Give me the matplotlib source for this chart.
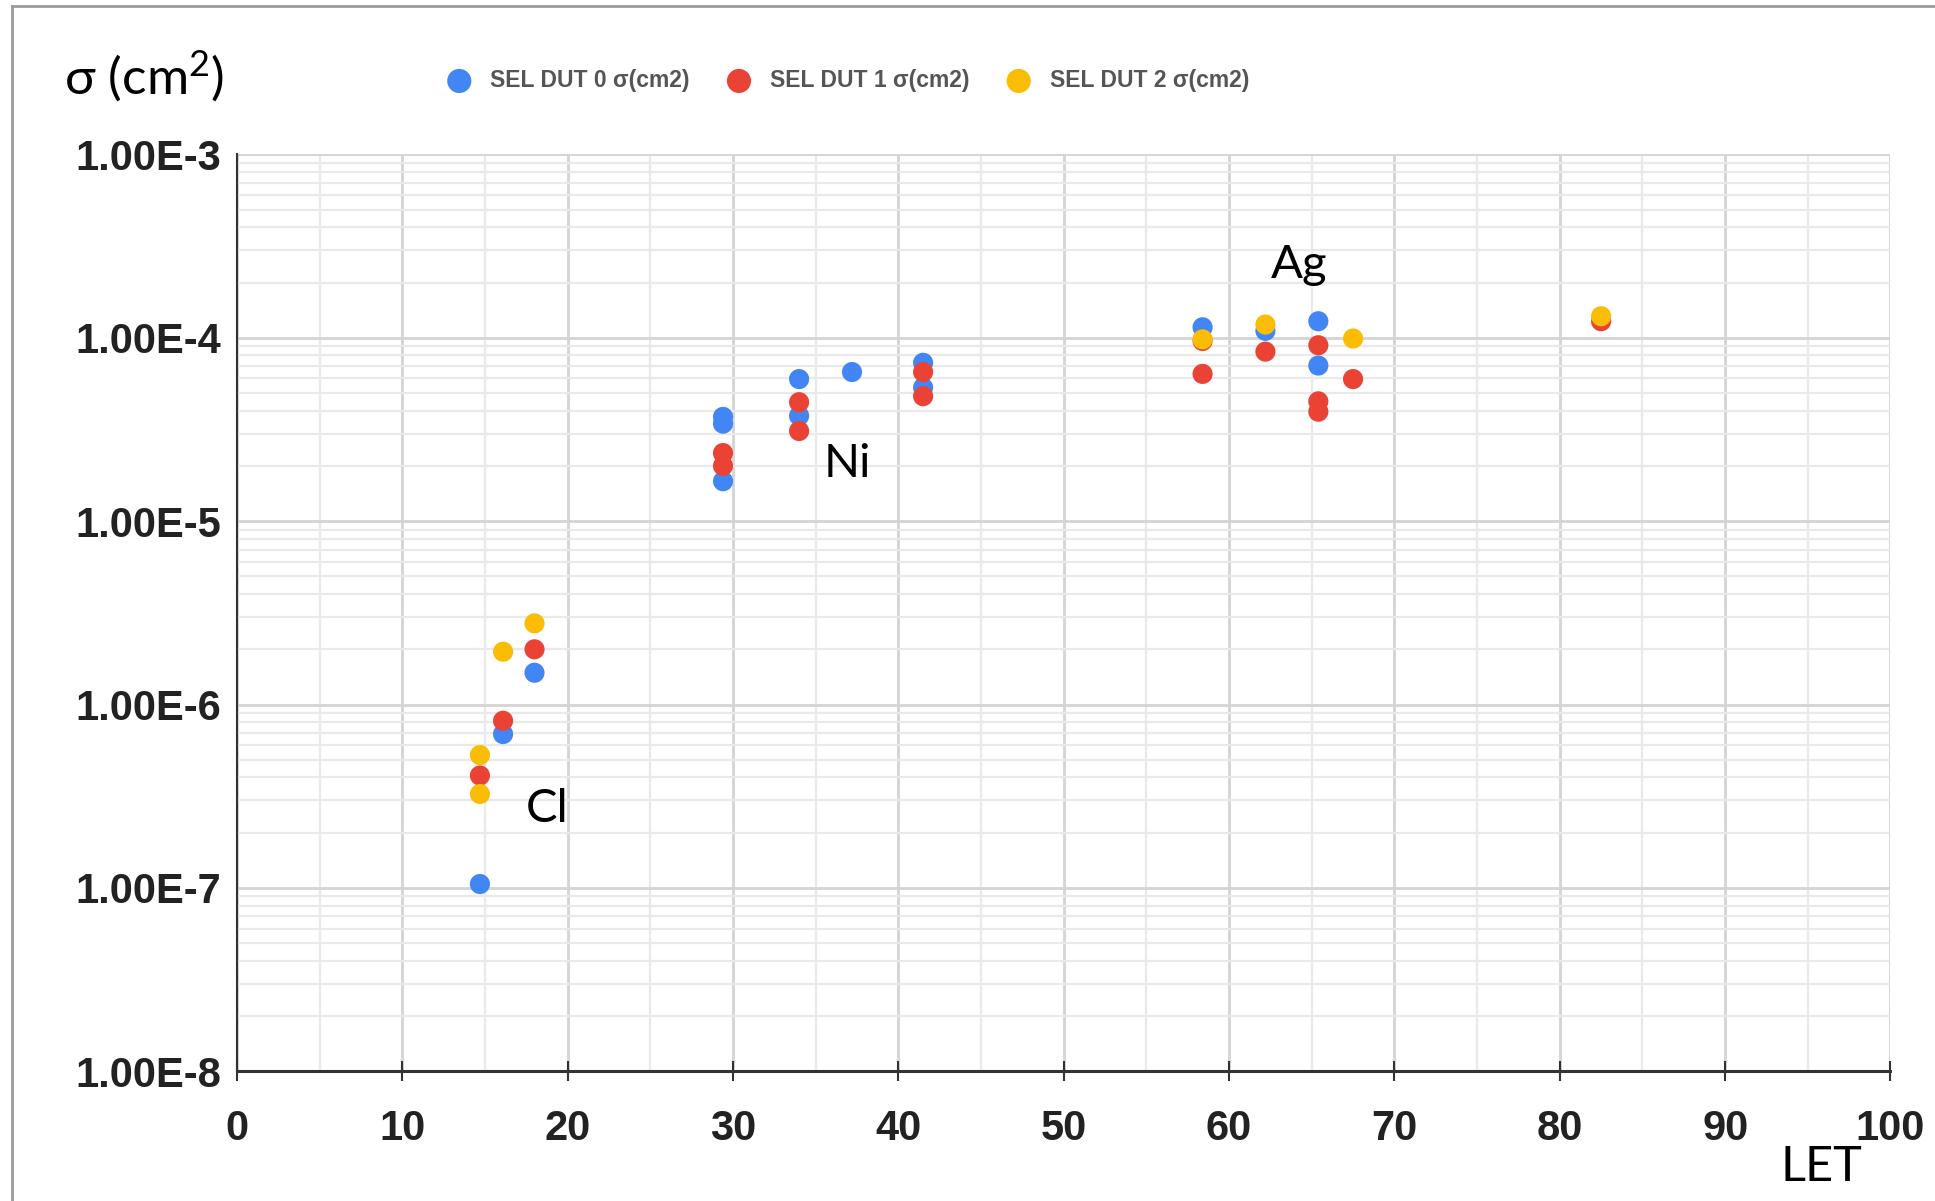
import matplotlib
matplotlib.use('Agg')
import matplotlib.pyplot as plt
from matplotlib.ticker import LogLocator, NullFormatter, MultipleLocator
from matplotlib.lines import Line2D

# LET values and cross sections
dut0_let = [14.7, 16.1, 18.0, 29.4, 29.4, 29.4, 34.0, 34.0, 37.2, 41.5, 41.5, 58.4, 62.2, 65.4, 65.4]
dut0_sig = [1.05e-7, 6.9e-7, 1.49e-6, 3.7e-5, 3.4e-5, 1.65e-5, 5.95e-5, 3.75e-5, 6.5e-5, 7.3e-5, 5.35e-5,
            1.14e-4, 1.09e-4, 1.23e-4, 7.05e-5]

dut1_let = [14.7, 16.1, 18.0, 29.4, 29.4, 34.0, 34.0, 41.5, 41.5, 58.4, 58.4, 62.2, 65.4, 65.4, 65.4, 67.5, 82.5]
dut1_sig = [4.1e-7, 8.15e-7, 2.0e-6, 2.35e-5, 2.0e-5, 4.45e-5, 3.1e-5, 6.5e-5, 4.8e-5, 6.35e-5, 9.6e-5,
            8.4e-5, 9.1e-5, 4.5e-5, 3.95e-5, 5.95e-5, 1.23e-4]

dut2_let = [14.7, 14.7, 16.1, 18.0, 58.4, 62.2, 67.5, 82.5]
dut2_sig = [5.3e-7, 3.25e-7, 1.94e-6, 2.77e-6, 9.8e-5, 1.18e-4, 9.9e-5, 1.31e-4]

series_names = ['SEL DUT 0 σ(cm2)', 'SEL DUT 1 σ(cm2)', 'SEL DUT 2 σ(cm2)']
colors = ['#4285F4', '#EA4335', '#FBBC04']

ion_labels = ['Cl', 'Ni', 'Ag']
ion_pos = [(17.5, 2.7e-7), (35.5, 2.05e-5), (62.5, 2.48e-4)]

yticks = [1e-8, 1e-7, 1e-6, 1e-5, 1e-4, 1e-3]
ytick_labels = ['1.00E-8', '1.00E-7', '1.00E-6', '1.00E-5', '1.00E-4', '1.00E-3']
xticks = list(range(0, 101, 10))

plt.rcParams['mathtext.fontset'] = 'custom'
plt.rcParams['mathtext.rm'] = 'Lato'

fig = plt.figure(figsize=(19.35, 12.01), dpi=100)
ax = fig.add_axes([0.1224, 0.108, 0.977 - 0.1224, 0.8715 - 0.108])

ax.set_yscale('log')
ax.set_xlim(0, 100)
ax.set_ylim(1e-8, 1e-3)

data = [(dut0_let, dut0_sig), (dut1_let, dut1_sig), (dut2_let, dut2_sig)]
for (xs, ys), c, name in zip(data, colors, series_names):
    ax.scatter(xs, ys, s=210, color=c, edgecolors='none', label=name, zorder=3, clip_on=False)

# grid
ax.set_xticks(xticks)
ax.xaxis.set_minor_locator(MultipleLocator(5))
ax.set_yticks(yticks, ytick_labels)
ax.yaxis.set_minor_locator(LogLocator(base=10, subs=range(2, 10)))
ax.yaxis.set_minor_formatter(NullFormatter())
ax.grid(which='major', color='#d4d4d4', lw=2)
ax.grid(which='minor', color='#e9e9e9', lw=1.6)
ax.set_axisbelow(True)

for s in ['top', 'right']:
    ax.spines[s].set_visible(False)
ax.spines['bottom'].set_color('#333333')
ax.spines['bottom'].set_linewidth(2.2)
ax.spines['left'].set_color('#333333')
ax.spines['left'].set_linewidth(1.5)

ax.tick_params(axis='x', which='major', direction='inout', length=14, width=1.5, color='#333333',
               labelsize=30, pad=20)
ax.tick_params(axis='x', which='minor', length=0)
ax.tick_params(axis='y', which='both', length=0, labelsize=30, pad=11)
for lab in ax.get_xticklabels() + ax.get_yticklabels():
    lab.set_family('Liberation Sans')
    lab.set_fontweight('bold')
    lab.set_color('#222222')

# ion names
for t, (x, y) in zip(ion_labels, ion_pos):
    ax.text(x, y, t, fontsize=34, family='Lato', color='black', va='center', ha='left')

fig.text(0.033, 0.937, 'σ (cm$\\mathregular{^2}$)', fontsize=37, family='Lato', color='black',
         va='center', ha='left')
fig.text(0.92, 0.028, 'LET', fontsize=35, family='Lato', color='black', va='center', ha='left')

fig.legend(loc='center', bbox_to_anchor=(0.4355, 0.933), ncol=3, frameon=False,
           prop={'family': 'Liberation Sans', 'weight': 'bold', 'size': 16.5},
           labelcolor='#555555', handletextpad=0.35, columnspacing=1.15, borderaxespad=0,
           markerscale=1.2)

# screenshot frame
fig.add_artist(Line2D([0.0062, 0.0062], [0, 0.995], transform=fig.transFigure, color='#9a9a9a', lw=2))
fig.add_artist(Line2D([0.0062, 1], [0.995, 0.995], transform=fig.transFigure, color='#9a9a9a', lw=2))

fig.savefig('out.png', dpi=100)
